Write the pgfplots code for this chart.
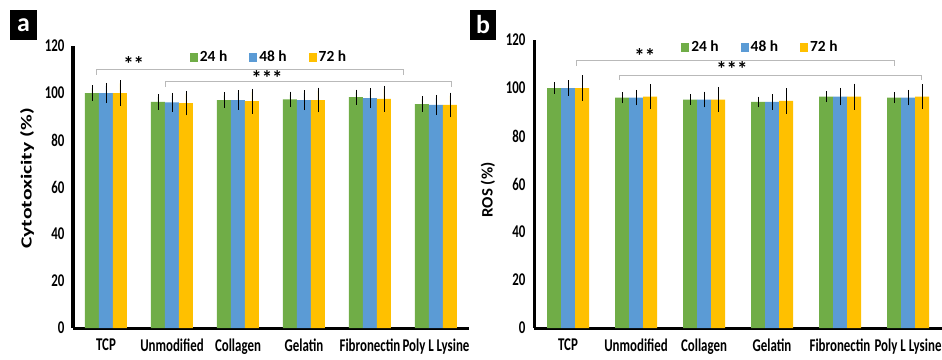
\documentclass[border=0pt]{standalone}
\usepackage{fontspec}
\setmainfont{Carlito}
\newfontfamily\tickfont{Carlito}[FakeStretch=0.72]
\newfontfamily\ylabA{Carlito}[FakeStretch=1.4]
\newfontfamily\ylabB{Carlito}[FakeStretch=1.05]
\usepackage{pgfplots}
\pgfplotsset{compat=1.18}
\usepackage{pgfplotstable}
\definecolor{cgreen}{RGB}{112,173,71}
\definecolor{cblue}{RGB}{91,155,213}
\definecolor{cyellow}{RGB}{255,192,0}
\definecolor{cbracket}{RGB}{185,185,185}

\pgfplotstableread{
x g ge b be y ye
0 100.0 2.0 100.0 3.0 100.0 4.1
1 96.2 2.0 96.0 2.8 95.7 3.9
2 97.0 2.0 97.0 2.9 96.5 4.0
3 97.3 2.0 97.0 3.0 97.0 4.0
4 98.2 2.0 97.8 3.0 97.5 4.3
5 95.3 2.0 94.9 3.0 94.9 4.0
}\dataA

\pgfplotstableread{
x g ge b be y ye
0 100.0 1.2 100.0 1.9 100.0 4.0
1 96.0 1.0 96.0 2.0 96.4 4.0
2 95.2 1.0 95.2 2.0 95.2 4.0
3 94.2 1.0 94.2 2.0 94.6 4.0
4 96.4 1.0 96.4 2.4 96.4 4.2
5 96.0 1.0 96.0 2.0 96.4 4.0
}\dataB

\pgfplotsset{
  panel/.style={
    scale only axis, ybar=0pt, bar width=14bp,
    ymin=0, ymax=120, xmin=-0.5, xmax=5.5, clip=false,
    axis x line*=bottom, axis y line*=left,
    axis line style={-, line width=3bp, black},
    major tick length=0pt,
    ytick={0,20,...,120},
    xtick={0,...,5},
    xticklabels={TCP,Unmodified,Collagen,Gelatin,Fibronectin,Poly L Lysine},
    /pgf/number format/assume math mode=true,
    ticklabel style={font=\tickfont\bfseries\fontsize{18}{18}\selectfont},
    yticklabel style={xshift=-5bp},
    xticklabel style={yshift=-7bp},
    legend columns=3,
    legend style={draw=none, fill=none, font=\bfseries\fontsize{15.5}{15.5}\selectfont,
      /tikz/every even column/.append style={column sep=20bp},
      /tikz/every odd column/.append style={column sep=0bp}},
    legend image code/.code={\fill[##1] (0bp,-4.5bp) rectangle (8bp,4.5bp);},
  },
  errs/.style={draw=none, error bars/.cd, y dir=both, y explicit,
    error bar style={line width=0.8bp, draw=black},
    error mark options={mark size=3bp, line width=0.9bp, draw=black}},
}

\begin{document}
\begin{tikzpicture}
\useasboundingbox (0,0) rectangle (942bp,-360bp);

% panel a
\begin{axis}[panel, at={(73bp,-328bp)}, anchor=south west, width=396bp, height=282bp,
  legend style={at={(axis cs:2.47,115.3)}, anchor=center}]
\addplot[fill=cgreen, errs] table[x=x, y=g, y error=ge] {\dataA};
\addplot[fill=cblue, errs] table[x=x, y=b, y error=be] {\dataA};
\addplot[fill=cyellow, errs] table[x=x, y=y, y error=ye] {\dataA};
\legend{24 h, 48 h, 72 h}
\draw[cbracket, line width=0.8bp] (axis cs:-0.15,107.7) |- (axis cs:4.5,110.2) -- (axis cs:4.5,107.7);
\draw[cbracket, line width=0.8bp] (axis cs:0.9,102.5) |- (axis cs:5.23,105.1) -- (axis cs:5.23,102.5);
\node[font=\bfseries\fontsize{21}{21}\selectfont] at (axis cs:0.42,112.5) {**};
\node[font=\bfseries\fontsize{21}{21}\selectfont] at (axis cs:2.44,106.5) {***};
\end{axis}

% panel b
\begin{axis}[panel, at={(534bp,-328bp)}, anchor=south west, width=408bp, height=288bp,
  legend style={at={(axis cs:2.83,117)}, anchor=center}]
\addplot[fill=cgreen, errs] table[x=x, y=g, y error=ge] {\dataB};
\addplot[fill=cblue, errs] table[x=x, y=b, y error=be] {\dataB};
\addplot[fill=cyellow, errs] table[x=x, y=y, y error=ye] {\dataB};
\legend{24 h, 48 h, 72 h}
\draw[cbracket, line width=0.8bp] (axis cs:0.12,109.2) |- (axis cs:4.8,111.7) -- (axis cs:4.8,109.2);
\draw[cbracket, line width=0.8bp] (axis cs:0.76,103.3) |- (axis cs:5.2,105.4) -- (axis cs:5.2,103.3);
\node[font=\bfseries\fontsize{21}{21}\selectfont] at (axis cs:1.13,113.5) {**};
\node[font=\bfseries\fontsize{21}{21}\selectfont] at (axis cs:2.41,108) {***};
\end{axis}

% y labels
\node[rotate=90, font=\ylabA\bfseries\fontsize{15.5}{15.5}\selectfont] at (27bp,-178.5bp) {Cytotoxicity (\%)};
\node[rotate=90, font=\ylabB\bfseries\fontsize{16}{16}\selectfont] at (488bp,-190bp) {ROS (\%)};

% panel letters
\fill[black] (10bp,-10bp) rectangle (37bp,-40bp);
\node[white, font=\bfseries\fontsize{26}{26}\selectfont] at (23.5bp,-25bp) {a};
\fill[black] (470bp,-10bp) rectangle (496bp,-40bp);
\node[white, font=\bfseries\fontsize{26}{26}\selectfont] at (483bp,-25bp) {b};
\end{tikzpicture}
\end{document}
